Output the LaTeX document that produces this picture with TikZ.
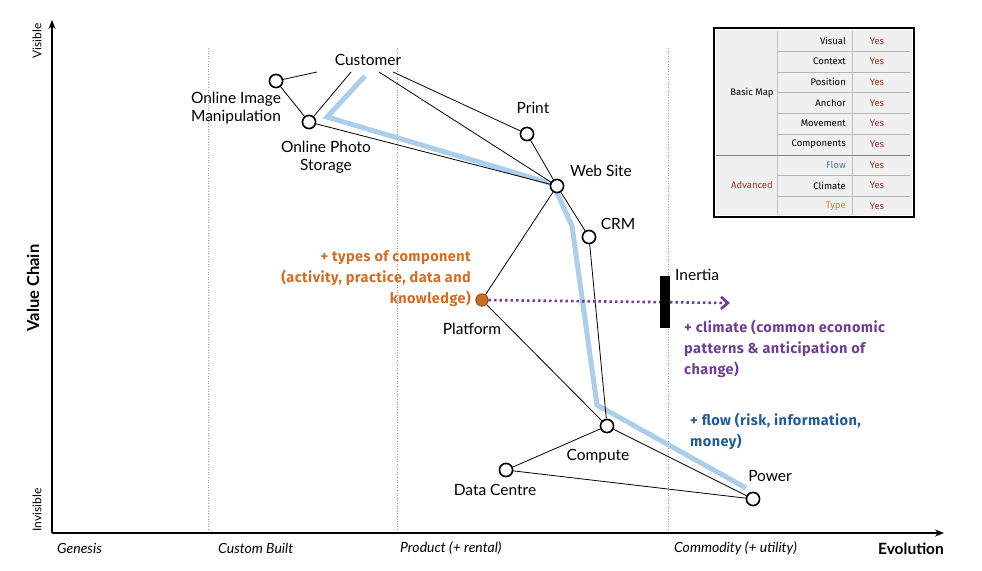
\documentclass[tikz,border=0pt]{standalone}
\usepackage{fontspec}
\setmainfont{Lato}
\newfontfamily\hand{Fira Sans}[LetterSpace=3]
\newfontfamily\tblfont{Fira Sans}
\usetikzlibrary{arrows.meta}
\definecolor{flowline}{RGB}{172,206,234}
\definecolor{orng}{RGB}{204,110,40}
\definecolor{purp}{RGB}{112,62,146}
\definecolor{fblue}{RGB}{32,92,150}
\definecolor{yesred}{RGB}{165,52,40}
\definecolor{tblgray}{RGB}{240,240,240}
\definecolor{gridgray}{RGB}{150,150,150}
\begin{document}
\begin{tikzpicture}[x=1pt,y=-1pt,
  comp/.style={circle,draw=black,line width=1.5pt,fill=white,minimum size=13pt,inner sep=0pt},
  lbl/.style={font=\fontsize{15.5}{18}\selectfont,inner sep=0pt,align=center},
  link/.style={draw=black,line width=0.8pt},
  stage/.style={font=\fontsize{14}{16}\itshape,anchor=west,inner sep=0pt},
  note/.style={font=\hand\bfseries\fontsize{14.5}{21}\selectfont,inner sep=0pt},
  tbl/.style={font=\tblfont\fontsize{9.5}{10}\selectfont,inner sep=0pt},
  evo/.style={draw=gridgray,line width=0.6pt,dotted}]
\useasboundingbox (0,0) rectangle (982,570);
\fill[white] (0,0) rectangle (982,570);

% stage separators
\coordinate (s1t) at (208,48); \coordinate (s1b) at (208,533);
\coordinate (s2t) at (397,48); \coordinate (s2b) at (397,533);
\coordinate (s3t) at (668,48); \coordinate (s3b) at (668,533);
\draw[evo] (s1t) -- (s1b);
\draw[evo] (s2t) -- (s2b);
\draw[evo] (s3t) -- (s3b);

% axes
\coordinate (org) at (52,533);
\coordinate (ytop) at (52,20);
\coordinate (xend) at (944,533);
\draw[line width=1.6pt,-{Stealth[length=9pt,width=7pt]}] (org) -- (ytop);
\draw[line width=1.6pt,-{Stealth[length=9pt,width=7pt]}] (org) -- (xend);

\node[stage] (gen) at (57,548) {Genesis};
\node[stage] (cus) at (218,548) {Custom Built};
\node[stage] (pro) at (400,548) {Product (+ rental)};
\node[stage] (com) at (674,548) {Commodity (+ utility)};
\node[font=\fontsize{15.5}{17}\bfseries\selectfont,inner sep=0pt] (evol) at (911,549) {Evolution};
\node[font=\fontsize{16.5}{18}\bfseries\selectfont,rotate=90,inner sep=0pt] (vc) at (33,288) {Value Chain};
\node[font=\fontsize{12}{13}\selectfont,rotate=90,inner sep=0pt] (vis) at (37,41) {Visible};
\node[font=\fontsize{12}{13}\selectfont,rotate=90,inner sep=0pt] (invis) at (37,510) {Invisible};

% flow line
\coordinate (f0) at (365,76);
\coordinate (f1) at (327,117);
\coordinate (f2) at (553,184);
\coordinate (f3) at (572,226);
\coordinate (f4) at (597,405);
\coordinate (f5) at (746,488);
\draw[flowline,line width=5pt,line join=miter] (f0) -- (f1) -- (f2) -- (f3) -- (f4) -- (f5);

% customer anchor
\node[lbl] (cust) at (368,60) {Customer};
\coordinate (cu1) at (317,72);
\coordinate (cu2) at (351,72);
\coordinate (cu3) at (379,72);
\coordinate (cu4) at (393,72);

% components
\node[comp] (oim) at (276,81) {};
\node[comp] (ops) at (309,122) {};
\node[comp] (prn) at (527,134) {};
\node[comp] (web) at (557,186) {};
\node[comp] (crm) at (589,237) {};
\node[comp,fill=orng,draw=orng!80!black,minimum size=12pt,line width=1pt] (plat) at (482,300) {};
\node[comp] (cmp) at (607,426) {};
\node[comp] (dc) at (506,470) {};
\node[comp] (pow) at (753,499) {};

% links
\draw[link] (oim) -- (cu1);
\draw[link] (ops) -- (cu2);
\draw[link] (web) -- (cu3);
\draw[link] (prn) -- (cu4);
\draw[link] (oim) -- (ops);
\draw[link] (ops) -- (web);
\draw[link] (prn) -- (web);
\draw[link] (web) -- (crm);
\draw[link] (web) -- (plat);
\draw[link] (crm) -- (cmp);
\draw[link] (plat) -- (cmp);
\draw[link] (cmp) -- (dc);
\draw[link] (cmp) -- (pow);
\draw[link] (dc) -- (pow);

% redraw circles on top of links
\node[comp] at (oim) {};
\node[comp] at (ops) {};
\node[comp] at (prn) {};
\node[comp] at (web) {};
\node[comp] at (crm) {};
\node[comp] at (cmp) {};
\node[comp] at (dc) {};
\node[comp] at (pow) {};
\node[comp,fill=orng,draw=orng!80!black,minimum size=12pt,line width=1pt] at (plat) {};

% labels
\node[lbl] (oimL) at (236,108) {Online Image\\Manipulation};
\node[lbl] (opsL) at (326,157) {Online Photo\\Storage};
\node[lbl] (prnL) at (533,108) {Print};
\node[lbl] (webL) at (601,171) {Web Site};
\node[lbl] (crmL) at (618,224) {CRM};
\node[lbl] (platL) at (472,329) {Platform};
\node[lbl] (cmpL) at (598,456) {Compute};
\node[lbl] (dcL) at (495,490) {Data Centre};
\node[lbl] (powL) at (770,476) {Power};

% climate arrow and inertia
\coordinate (arrEnd) at (730,303);
\draw[purp,line width=2.6pt,dash pattern=on 2.5pt off 3pt,-{Straight Barb[length=7pt,width=12pt,line width=2.6pt]}] (plat) -- (arrEnd);
\node[fill=black,minimum width=10pt,minimum height=52pt,inner sep=0pt] (inert) at (665,302) {};
\node[lbl,anchor=west] (inertL) at (675,275) {Inertia};

% notes
\node[note,orng,align=right,anchor=east] (typeN) at (471,279) {+ types of component\\(activity, practice, data and\\knowledge)};
\node[note,purp,align=left,anchor=north west] (climN) at (684,320) {+ climate (common economic\\patterns \& anticipation of\\change)};
\node[note,fblue,align=left,anchor=north west] (flowN) at (690,413) {+ flow (risk, information,\\money)};

% table
\fill[tblgray] (716,30) rectangle (912,215);
\draw[gridgray!60,line width=0.6pt] (777,31) -- (777,215);
\draw[gridgray!60,line width=0.6pt] (852,31) -- (852,215);
\foreach \yy in {51,72,92,113,134,175,196}{
  \draw[gridgray!70,line width=0.6pt] (777,\yy) -- (910,\yy);
}
\draw[gridgray!120,line width=0.8pt] (716,155) -- (910,155);
\draw[black,line width=2pt] (714,28) rectangle (914,217);

\node[tbl] (bm) at (752,93) {Basic Map};
\node[tbl,yesred] (adv) at (752,185) {Advanced};
\node[tbl,anchor=east] (r1) at (846,41) {Visual};
\node[tbl,anchor=east] (r2) at (846,61.5) {Context};
\node[tbl,anchor=east] (r3) at (846,82) {Position};
\node[tbl,anchor=east] (r4) at (846,103) {Anchor};
\node[tbl,anchor=east] (r5) at (846,123.5) {Movement};
\node[tbl,anchor=east] (r6) at (846,144) {Components};
\node[tbl,anchor=east,fblue!80] (r7) at (846,165) {Flow};
\node[tbl,anchor=east] (r8) at (846,185.5) {Climate};
\node[tbl,anchor=east,orng!90] (r9) at (846,206) {Type};
\foreach \yy/\nm in {41/y1,61.5/y2,82/y3,103/y4,123.5/y5,144/y6,165/y7,185.5/y8,206/y9}{
  \node[tbl,yesred] (\nm) at (877,\yy) {Yes};
}
\end{tikzpicture}
\end{document}
